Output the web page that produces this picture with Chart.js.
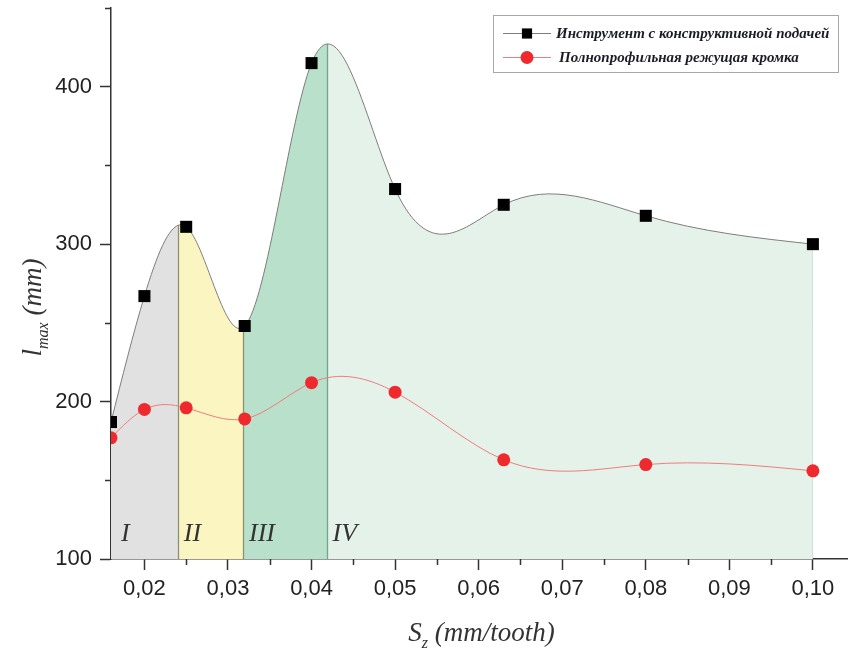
<!DOCTYPE html>
<html>
<head>
<meta charset="utf-8">
<script src="https://cdn.jsdelivr.net/npm/chart.js@4/dist/chart.umd.min.js"></script>
<style>
  html, body { margin: 0; padding: 0; background: #ffffff; }
  #wrap { width: 848px; height: 652px; }
</style>
</head>
<body>
<div id="wrap"><canvas id="chart" width="848" height="652"></canvas></div>
<script>
// Feed per tooth, mm/tooth
const feedRates = [0.016, 0.02, 0.025, 0.032, 0.04, 0.05, 0.063, 0.08, 0.10];
// Maximum machined length, mm
const lmaxDesignedFeed = [187, 267, 311, 248, 415, 335, 325, 318, 300];
const lmaxFullProfile = [177, 195, 196, 189, 212, 206, 163, 160, 156];
const seriesNames = ['Инструмент с конструктивной подачей', 'Полнопрофильная режущая кромка'];

// Wear zones along the feed axis
const zoneEdges = [0.0240, 0.0318, 0.0418];
const zoneLabels = ['I', 'II', 'III', 'IV'];

// Axis ticks
const xMajorTicks = [0.02, 0.03, 0.04, 0.05, 0.06, 0.07, 0.08, 0.09, 0.10];
const xMinorTicks = [0.025, 0.035, 0.045, 0.055, 0.065, 0.075, 0.085, 0.095];
const yMajorTicks = [100, 200, 300, 400];
const yMinorTicks = [150, 250, 350, 450];

const zoneColors = ['#e1e1e1', '#fbf6c1', '#b9e0cb', '#e4f2e9'];
const zoneLineColors = ['#8d8d78', '#8a9270', '#6ea88a'];
const AXIS_COLOR = '#333333';
const SERIF = '"Liberation Serif", "Times New Roman", serif';
const SANS = '"Liberation Sans", Arial, sans-serif';

function toPoints(xs, ys) {
  return xs.map((x, i) => ({ x: x, y: ys[i] }));
}

// Hard-edged horizontal gradient so the area under the curve is tinted per zone
function zoneGradient(chart) {
  const area = chart.chartArea;
  const xs = chart.scales.x;
  if (!area || !xs) return zoneColors[0];
  const g = chart.ctx.createLinearGradient(area.left, 0, area.right, 0);
  const w = area.right - area.left;
  const stops = [0].concat(zoneEdges.map(v => Math.min(1, Math.max(0, (xs.getPixelForValue(v) - area.left) / w)))).concat([1]);
  for (let i = 0; i < zoneColors.length; i++) {
    g.addColorStop(stops[i], zoneColors[i]);
    g.addColorStop(stops[i + 1], zoneColors[i]);
  }
  return g;
}

// Natural cubic spline through the (pixel) points, expressed as Bezier control points
function setSplineControlPoints(pts) {
  const n = pts.length;
  if (n < 3) return;
  const x = pts.map(p => p.x), y = pts.map(p => p.y);
  const h = [];
  for (let i = 0; i < n - 1; i++) h.push(x[i + 1] - x[i]);
  const M = new Array(n).fill(0);
  const a = [], b = [], c = [], d = [];
  for (let i = 1; i < n - 1; i++) {
    a.push(h[i - 1]);
    b.push(2 * (h[i - 1] + h[i]));
    c.push(h[i]);
    d.push(6 * ((y[i + 1] - y[i]) / h[i] - (y[i] - y[i - 1]) / h[i - 1]));
  }
  const m = b.length;
  for (let i = 1; i < m; i++) {
    const w = a[i] / b[i - 1];
    b[i] -= w * c[i - 1];
    d[i] -= w * d[i - 1];
  }
  const sol = new Array(m);
  sol[m - 1] = d[m - 1] / b[m - 1];
  for (let i = m - 2; i >= 0; i--) sol[i] = (d[i] - c[i] * sol[i + 1]) / b[i];
  for (let i = 0; i < m; i++) M[i + 1] = sol[i];
  const slope = [];
  for (let i = 0; i < n - 1; i++) {
    slope.push((y[i + 1] - y[i]) / h[i] - h[i] * (2 * M[i] + M[i + 1]) / 6);
  }
  slope.push((y[n - 1] - y[n - 2]) / h[n - 2] + h[n - 2] * (M[n - 2] + 2 * M[n - 1]) / 6);
  for (let i = 0; i < n; i++) {
    const p = pts[i];
    const hPrev = i > 0 ? h[i - 1] : 0;
    const hNext = i < n - 1 ? h[i] : 0;
    p.cp1x = x[i] - hPrev / 3;
    p.cp1y = y[i] - slope[i] * hPrev / 3;
    p.cp2x = x[i] + hNext / 3;
    p.cp2y = y[i] + slope[i] * hNext / 3;
  }
}

const splinePlugin = {
  id: 'naturalSpline',
  beforeDraw(chart) {
    chart.getSortedVisibleDatasetMetas().forEach(meta => {
      const line = meta.dataset;
      if (!line) return;
      line.updateControlPoints(chart.chartArea, 'x');
      setSplineControlPoints(meta.data);
      delete line._path;
    });
  }
};

// Zone boundaries: vertical lines from the axis up to the upper curve, plus zone numerals
const zonePlugin = {
  id: 'zones',
  beforeDatasetsDraw(chart) {
    const meta = chart.getDatasetMeta(0);
    const line = meta.dataset;
    const pts = meta.data;
    const area = chart.chartArea;
    const xs = chart.scales.x;
    const ctx = chart.ctx;
    ctx.save();
    ctx.beginPath();
    line.path(ctx);
    ctx.lineTo(pts[pts.length - 1].x, area.bottom);
    ctx.lineTo(pts[0].x, area.bottom);
    ctx.closePath();
    ctx.clip();
    ctx.lineWidth = 1.3;
    zoneEdges.forEach((v, i) => {
      const px = Math.round(xs.getPixelForValue(v)) + 0.5;
      ctx.strokeStyle = zoneLineColors[i];
      ctx.beginPath();
      ctx.moveTo(px, area.bottom);
      ctx.lineTo(px, area.top);
      ctx.stroke();
    });
    const lastX = Math.round(pts[pts.length - 1].x) + 0.5;
    ctx.strokeStyle = '#9a9a9a';
    ctx.lineWidth = 1.5;
    ctx.beginPath();
    ctx.moveTo(lastX, area.bottom);
    ctx.lineTo(lastX, area.top);
    ctx.stroke();
    ctx.restore();

    ctx.save();
    ctx.fillStyle = '#333333';
    ctx.font = 'italic 26px ' + SERIF;
    ctx.textAlign = 'left';
    ctx.textBaseline = 'alphabetic';
    const starts = [area.left + 4].concat(zoneEdges.map(v => xs.getPixelForValue(v)));
    zoneLabels.forEach((t, i) => {
      ctx.fillText(t, starts[i] + 6, area.bottom - 18);
    });
    ctx.restore();
  }
};

// Minor ticks, axis titles with subscripts, and the framed legend
const decorPlugin = {
  id: 'decor',
  afterDraw(chart) {
    const ctx = chart.ctx;
    const area = chart.chartArea;
    const xs = chart.scales.x, ys = chart.scales.y;
    ctx.save();
    ctx.strokeStyle = AXIS_COLOR;
    ctx.lineWidth = 1.5;
    ctx.beginPath();
    xMinorTicks.forEach(v => {
      const px = Math.round(xs.getPixelForValue(v)) + 0.5;
      ctx.moveTo(px, area.bottom);
      ctx.lineTo(px, area.bottom + 6);
    });
    yMinorTicks.forEach(v => {
      const py = Math.round(ys.getPixelForValue(v)) + 0.5;
      ctx.moveTo(area.left - 6, py);
      ctx.lineTo(area.left, py);
    });
    ctx.stroke();
    ctx.restore();

    // Y title: l_max (mm)
    ctx.save();
    ctx.fillStyle = '#333333';
    ctx.translate(32, (area.top + area.bottom) / 2 + 24);
    ctx.rotate(-Math.PI / 2);
    ctx.textBaseline = 'alphabetic';
    const big = 'italic 27px ' + SERIF, small = 'italic 16px ' + SERIF;
    ctx.font = big; const wl = ctx.measureText('l').width;
    ctx.font = small; const wm = ctx.measureText('max').width;
    ctx.font = big; const wr = ctx.measureText(' (mm)').width;
    let sx = -(wl + wm + wr) / 2;
    ctx.font = big; ctx.fillText('l', sx, 9); sx += wl;
    ctx.font = small; ctx.fillText('max', sx, 16); sx += wm;
    ctx.font = big; ctx.fillText(' (mm)', sx, 9);
    ctx.restore();

    // X title: S_z (mm/tooth)
    ctx.save();
    ctx.fillStyle = '#333333';
    ctx.textBaseline = 'alphabetic';
    ctx.font = big; const ws = ctx.measureText('S').width;
    ctx.font = small; const wz = ctx.measureText('z').width;
    ctx.font = big; const wt = ctx.measureText(' (mm/tooth)').width;
    let tx = (area.left + area.right) / 2 - (ws + wz + wt) / 2 + 2;
    const by = 641;
    ctx.font = big; ctx.fillText('S', tx, by); tx += ws;
    ctx.font = small; ctx.fillText('z', tx, by + 7); tx += wz;
    ctx.font = big; ctx.fillText(' (mm/tooth)', tx, by);
    ctx.restore();

    // Legend
    ctx.save();
    ctx.strokeStyle = '#a8a8a8';
    ctx.lineWidth = 1;
    ctx.strokeRect(493.5, 15.5, 345, 57);
    const rows = [33, 57];
    chart.data.datasets.forEach((ds, i) => {
      const ry = rows[i] + 0.5;
      ctx.strokeStyle = ds.borderColor;
      ctx.lineWidth = 1;
      ctx.beginPath();
      ctx.moveTo(503, ry);
      ctx.lineTo(551, ry);
      ctx.stroke();
      ctx.fillStyle = ds.pointBackgroundColor;
      Chart.helpers.drawPoint(ctx, {
        pointStyle: ds.pointStyle,
        radius: i === 0 ? 7.2 : 6.5,
        rotation: 0,
        borderWidth: 0
      }, 527, ry);
      ctx.fillStyle = '#1c1c28';
      ctx.font = 'bold italic 15px ' + SERIF;
      ctx.textBaseline = 'middle';
      ctx.textAlign = 'left';
      ctx.fillText(ds.label, i === 0 ? 556 : 559, ry + 1);
    });
    ctx.restore();
  }
};

const fmtFeed = v => v.toFixed(2).replace('.', ',');

// Pin the plot area: axis boxes of fixed size and no label overhang padding
function pinScale(size, horizontal) {
  return s => {
    if (horizontal) s.height = size; else s.width = size;
    s.paddingLeft = 0; s.paddingRight = 0; s.paddingTop = 0; s.paddingBottom = 0;
  };
}

new Chart(document.getElementById('chart'), {
  type: 'line',
  data: {
    datasets: [
      {
        label: seriesNames[0],
        data: toPoints(feedRates, lmaxDesignedFeed),
        borderColor: '#7d7d7d',
        borderWidth: 1,
        backgroundColor: ctx => zoneGradient(ctx.chart),
        fill: 'start',
        tension: 0.4,
        pointStyle: 'rect',
        pointRadius: 8.5,
        pointBackgroundColor: '#000000',
        pointBorderWidth: 0,
        pointHoverRadius: 8.5
      },
      {
        label: seriesNames[1],
        data: toPoints(feedRates, lmaxFullProfile),
        borderColor: '#f27c7c',
        borderWidth: 1,
        fill: false,
        tension: 0.4,
        pointStyle: 'circle',
        pointRadius: 6.5,
        pointBackgroundColor: '#ee2a2f',
        pointBorderWidth: 0,
        pointHoverRadius: 6.5
      }
    ]
  },
  options: {
    responsive: false,
    devicePixelRatio: 1,
    animation: false,
    events: [],
    layout: { autoPadding: false, padding: { top: 8, right: 0, left: 0, bottom: 0 } },
    plugins: {
      legend: { display: false },
      tooltip: { enabled: false },
      filler: { drawTime: 'beforeDatasetsDraw' }
    },
    scales: {
      x: {
        type: 'linear',
        min: 0.016,
        max: 0.1042,
        afterBuildTicks: s => { s.ticks = xMajorTicks.map(v => ({ value: v })); },
        afterFit: pinScale(93, true),
        ticks: {
          color: '#222222',
          font: { family: SANS, size: 22 },
          padding: 6,
          maxRotation: 0,
          autoSkip: false,
          callback: v => fmtFeed(v)
        },
        grid: { display: true, drawOnChartArea: false, drawTicks: true, tickLength: 11, tickWidth: 1.5, tickColor: AXIS_COLOR },
        border: { display: true, color: AXIS_COLOR, width: 1.5 }
      },
      y: {
        type: 'linear',
        min: 100,
        max: 450,
        afterBuildTicks: s => { s.ticks = yMajorTicks.map(v => ({ value: v })); },
        afterFit: pinScale(111, false),
        ticks: {
          color: '#222222',
          font: { family: SANS, size: 22 },
          padding: 8,
          autoSkip: false,
          callback: v => String(v)
        },
        grid: { display: true, drawOnChartArea: false, drawTicks: true, tickLength: 11, tickWidth: 1.5, tickColor: AXIS_COLOR },
        border: { display: true, color: AXIS_COLOR, width: 1.5 }
      }
    }
  },
  plugins: [splinePlugin, zonePlugin, decorPlugin]
});
</script>
</body>
</html>
